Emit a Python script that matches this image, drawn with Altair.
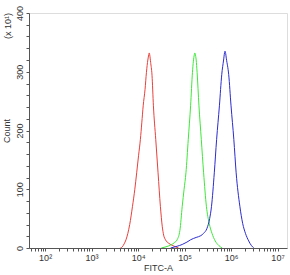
import altair as alt
import pandas as pd

# Curves: log10(FITC-A) positions and counts (x10)
red_log10 = [3.62, 3.66, 3.70, 3.74, 3.82, 3.88, 3.93, 3.97, 4.01, 4.05, 4.08, 4.11, 4.15, 4.18, 4.21, 4.23, 4.24,
             4.25, 4.27, 4.30, 4.33, 4.38, 4.43, 4.48, 4.52, 4.55, 4.59, 4.66, 4.75, 4.87]
red_count = [0, 2, 7, 14, 40, 71, 100, 128, 157, 185, 213, 242, 270, 299, 320, 329, 332,
             329, 316, 294, 242, 185, 128, 71, 37, 22, 14, 8, 4, 0]

green_log10 = [4.50, 4.60, 4.70, 4.78, 4.84, 4.90, 4.95, 4.99, 5.03, 5.08, 5.13, 5.17, 5.19, 5.21, 5.22,
               5.23, 5.25, 5.27, 5.31, 5.36, 5.41, 5.47, 5.53, 5.59, 5.66, 5.74, 5.81]
green_count = [0, 2, 5, 9, 14, 30, 71, 100, 128, 185, 242, 299, 318, 329, 332,
               330, 320, 299, 242, 185, 128, 71, 42, 25, 12, 4, 0]

blue_log10 = [4.70, 4.84, 4.95, 5.05, 5.13, 5.25, 5.35, 5.41, 5.48, 5.54, 5.58, 5.64, 5.69, 5.75,
              5.80, 5.84, 5.86, 5.87, 5.88, 5.90, 5.95, 6.00, 6.06, 6.11, 6.19, 6.25, 6.31, 6.38, 6.44, 6.49]
blue_count = [0, 3, 6, 10, 14, 18, 21, 25, 33, 50, 71, 128, 185, 242,
              295, 320, 332, 335, 333, 322, 295, 242, 185, 128, 71, 42, 25, 12, 4, 0]

series_names = ["red", "green", "blue"]
series_colors = ["#e8413c", "#3ee83a", "#2b2bd0"]

major_x = [100, 1000, 10000, 100000, 1000000, 10000000]
major_x_labels = ["10²", "10³", "10⁴", "10⁵", "10⁶", "10⁷"]
minor_mult = [2, 3, 4, 5, 6, 7, 8, 9]
x_domain = [45, 16000000]

y_ticks = list(range(0, 401, 20))
y_domain = [0, 400]

rows = []
for name, lx, cy in [("red", red_log10, red_count), ("green", green_log10, green_count),
                     ("blue", blue_log10, blue_count)]:
    for i, (a, b) in enumerate(zip(lx, cy)):
        rows.append({"series": name, "x": 10 ** a, "count": b, "order": i})
df = pd.DataFrame(rows)

x_ticks = []
for d in [10, 100, 1000, 10000, 100000, 1000000, 10000000]:
    for m in [1] + minor_mult:
        v = d * m
        if x_domain[0] <= v <= x_domain[1]:
            x_ticks.append(v)

label_expr = "".join(
    f"datum.value == {v} ? '{l}' : " for v, l in zip(major_x, major_x_labels)
) + "''"

font = "Liberation Sans"

lines = alt.Chart(df).mark_line(strokeWidth=1, clip=True, interpolate="monotone").encode(
    x=alt.X("x:Q", scale=alt.Scale(type="log", domain=x_domain, nice=False),
            axis=alt.Axis(values=x_ticks, labelExpr=label_expr, tickSize=3, grid=False,
                          title="FITC-A", titleFont=font, titleFontSize=9, titleFontWeight="normal",
                          titleColor="#333", titlePadding=1, labelFont=font, labelFontSize=9,
                          labelColor="#333", labelPadding=2, domainColor="#555", tickColor="#555",
                          labelOverlap=False, labelFlush=False)),
    y=alt.Y("count:Q", scale=alt.Scale(domain=y_domain, nice=False),
            axis=alt.Axis(values=y_ticks, labelExpr="datum.value % 100 == 0 ? datum.label : ''",
                          tickSize=3, grid=False, labelAngle=-90, labelAlign="center",
                          labelBaseline="bottom", labelPadding=2, labelFont=font, labelFontSize=9,
                          labelColor="#333", domainColor="#555", tickColor="#555",
                          title="Count", titleFont=font, titleFontSize=9, titleFontWeight="normal",
                          titleColor="#333", titlePadding=4, labelOverlap=False, labelFlush=False)),
    color=alt.Color("series:N", scale=alt.Scale(domain=series_names, range=series_colors), legend=None),
    order="order:Q",
    detail="series:N",
)

mult = alt.Chart(pd.DataFrame({"t": ["(x 10¹)"]})).mark_text(
    angle=270, font=font, fontSize=9, color="#333", align="center", baseline="middle"
).encode(text="t:N", x=alt.value(-21), y=alt.value(13))

chart = alt.layer(lines, mult).properties(
    width=258, height=235,
    autosize=alt.AutoSizeParams(type="none"),
    padding={"left": 29, "top": 13, "right": 3, "bottom": 27},
).configure_view(stroke="#555", strokeWidth=1).configure(background="white")

chart.save("out.html", embed_options={"renderer": "svg", "actions": False})
